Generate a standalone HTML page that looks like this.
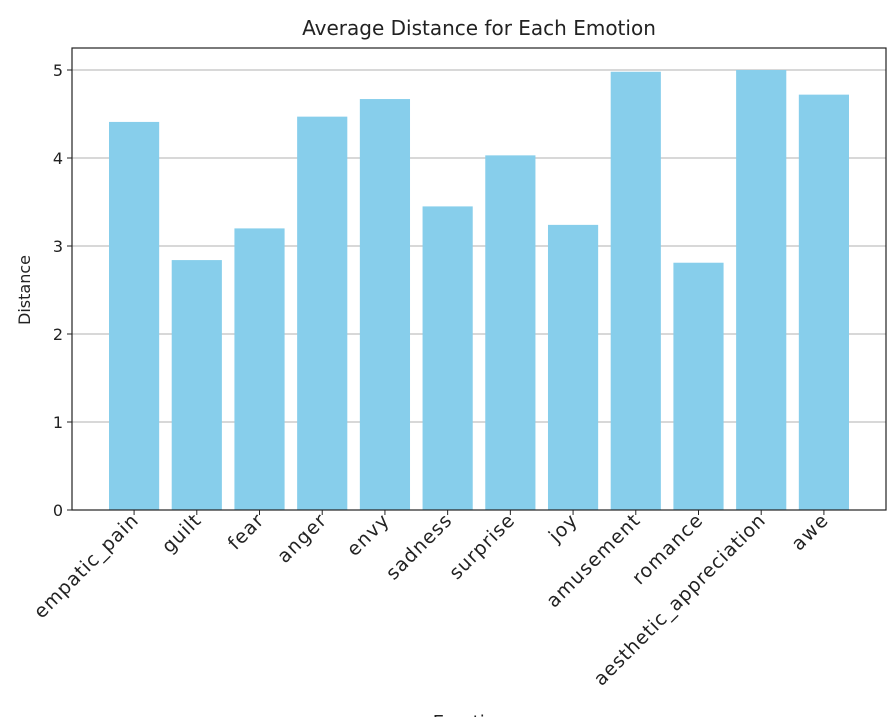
<!DOCTYPE html>
<html><head><meta charset="utf-8"><style>
body{margin:0;background:#fff;}
svg text{font-family:"DejaVu Sans","Liberation Sans",sans-serif;fill:#222;}
</style></head><body>
<svg id="chart" width="895" height="717" xmlns="http://www.w3.org/2000/svg">
<text x="479" y="35" font-size="20" text-anchor="middle">Average Distance for Each Emotion</text>
<text transform="translate(30,290) rotate(-90)" font-size="16" text-anchor="middle">Distance</text>
<text x="470" y="728" font-size="18" text-anchor="middle">Emotion</text>
<g id="grid"></g><g id="bars"></g><g id="ticks"></g>
<rect x="72" y="48" width="814" height="462" fill="none" stroke="#222" stroke-width="1.2"/>
</svg>
<script>
const categories=["empatic_pain","guilt","fear","anger","envy","sadness","surprise","joy","amusement","romance","aesthetic_appreciation","awe"];
const values=[4.41,2.84,3.20,4.47,4.67,3.45,4.03,3.24,4.98,2.81,5.00,4.72];
const yTicks=[0,1,2,3,4,5];
const NS="http://www.w3.org/2000/svg";
const L=72,R=886,B=510;
const xMin=-0.99,xMax=11.99;
function xs(i){return L+(i-xMin)/(xMax-xMin)*(R-L);}
function ys(v){return B-v*88;}
function mk(t,a,p){const e=document.createElementNS(NS,t);for(const k in a)e.setAttribute(k,a[k]);p.appendChild(e);return e;}
const g=document.getElementById('grid'),bg=document.getElementById('bars'),tg=document.getElementById('ticks');
yTicks.forEach(v=>{
  const y=ys(v);
  const gl=mk('line',{x1:L,x2:R,y1:y,y2:y,stroke:'#b0b0b0','stroke-width':1},g);
  
  
  mk('line',{x1:L-5,x2:L,y1:y,y2:y,stroke:'#222'},tg);
  const t=mk('text',{x:L-9,y:y+6,'font-size':16,'text-anchor':'end'},tg);
  t.textContent=v;
  
  
});
const bw=(xs(0.4)-xs(-0.4));
categories.forEach((c,i)=>{
  const x=xs(i);
  const r=mk('rect',{x:x-bw/2,y:ys(values[i]),width:bw,height:B-ys(values[i]),fill:'#87ceeb'},bg);
  
  
  mk('line',{x1:x,x2:x,y1:B,y2:B+5,stroke:'#222'},tg);
  const t=mk('text',{transform:`translate(${x+5},${B+12}) rotate(-45)`,'font-size':19,'text-anchor':'end'},tg);
  t.textContent=c;
  
  
  const len=t.getComputedTextLength();
  t.setAttribute('textLength',len*1.08);
  t.setAttribute('lengthAdjust','spacing');
});
</script>
</body></html>
